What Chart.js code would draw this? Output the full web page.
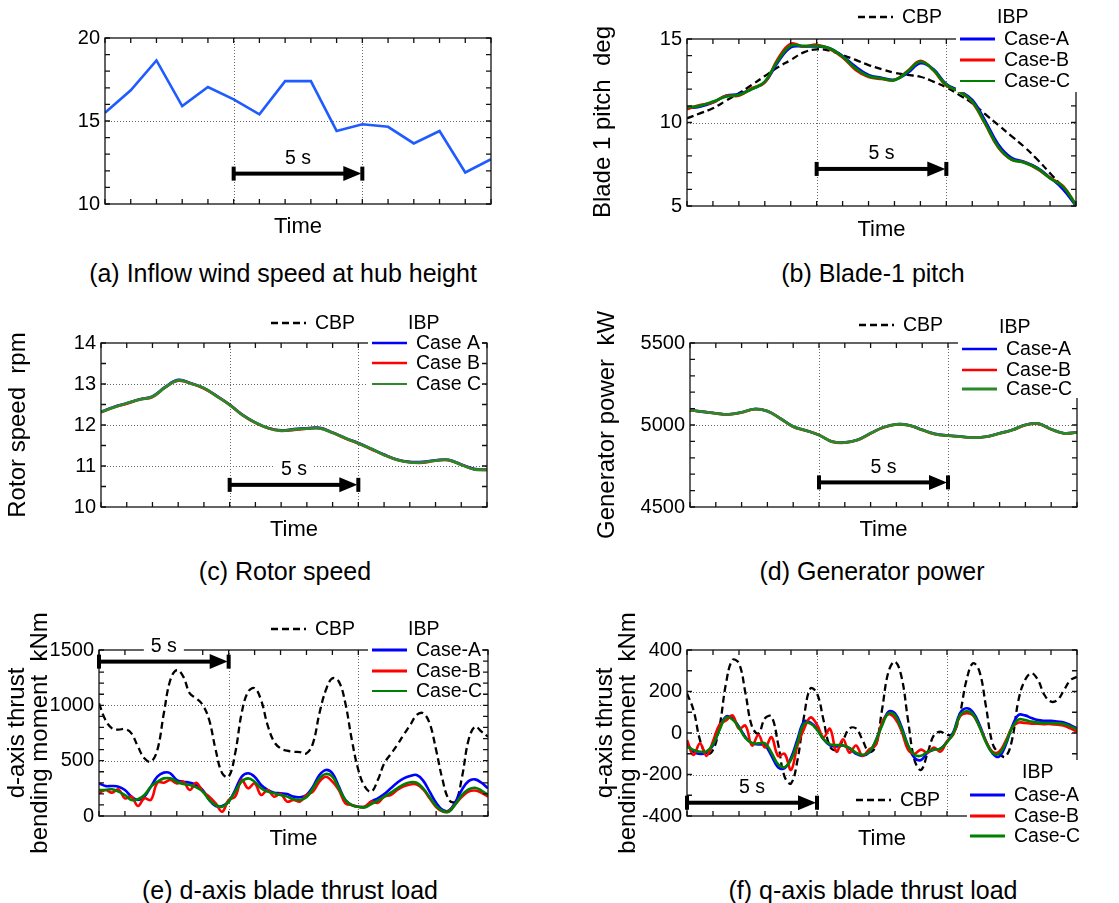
<!DOCTYPE html>
<html>
<head>
<meta charset="utf-8">
<script src="https://cdn.jsdelivr.net/npm/chart.js@4.4.1/dist/chart.umd.min.js"></script>
<style>
  body { margin: 0; background: #fff; width: 1119px; height: 903px; position: relative; overflow: hidden;
         font-family: "Liberation Sans", Arial, Helvetica, sans-serif; }
  canvas { position: absolute; }
  .cap { position: absolute; width: 600px; text-align: center; font-size: 25px; line-height: 28px; color: #000; }
</style>
</head>
<body>
<canvas id="chartA"></canvas>
<canvas id="chartB"></canvas>
<canvas id="chartC"></canvas>
<canvas id="chartD"></canvas>
<canvas id="chartE"></canvas>
<canvas id="chartF"></canvas>

<div class="cap" style="left:-17px;top:259px">(a) Inflow wind speed at hub height</div>
<div class="cap" style="left:573px;top:259px">(b) Blade-1 pitch</div>
<div class="cap" style="left:-15px;top:557px">(c) Rotor speed</div>
<div class="cap" style="left:572px;top:557px">(d) Generator power</div>
<div class="cap" style="left:-10px;top:876px">(e) d-axis blade thrust load</div>
<div class="cap" style="left:573px;top:876px">(f) q-axis blade thrust load</div>

<script>
// ---- data (time in s) ----
const T_WIND = [0, 1, 2, 3, 4, 5, 6, 7, 8, 9, 10, 11, 12, 13, 14, 15];
const WIND_SPEED = [15.5, 16.85, 18.65, 15.9, 17.05, 16.3, 15.4, 17.4, 17.4, 14.4, 14.8, 14.65, 13.65, 14.4, 11.9, 12.7];

const T_HALF = [0, 0.5, 1, 1.5, 2, 2.5, 3, 3.5, 4, 4.5, 5, 5.5, 6, 6.5, 7, 7.5, 8, 8.5, 9, 9.5,
                10, 10.5, 11, 11.5, 12, 12.5, 13, 13.5, 14, 14.5, 15];

const PITCH_CBP = [10.25, 10.55, 10.85, 11.3, 11.75, 12.25, 12.78, 13.3, 13.74, 14.2, 14.38, 14.3, 14.04, 13.75, 13.44, 13.2,
                   12.98, 12.85, 12.74, 12.45, 12.1, 11.65, 11.15, 10.5, 9.85, 9.2, 8.55, 7.8, 6.96, 6.1, 5.06];
const PITCH_A = [10.85, 10.95, 11.2, 11.6, 11.7, 12.0, 12.4, 13.6, 14.5, 14.55, 14.55, 14.45, 13.98, 13.35, 12.85, 12.68,
                 12.56, 12.95, 13.55, 13.2, 12.3, 11.9, 11.35, 10.1, 8.7, 7.9, 7.65, 7.3, 6.7, 6.0, 5.0];
const PITCH_B = [10.8, 11.05, 11.2, 11.6, 11.6, 12.05, 12.4, 13.8, 14.72, 14.55, 14.66, 14.4, 13.9, 13.15, 12.72, 12.6,
                 12.55, 13.08, 13.7, 13.12, 12.2, 11.88, 11.2, 9.9, 8.5, 7.78, 7.62, 7.22, 6.68, 6.2, 5.06];
const PITCH_C = [10.9, 11.0, 11.25, 11.55, 11.65, 12.0, 12.45, 13.7, 14.6, 14.58, 14.58, 14.44, 13.94, 13.24, 12.78, 12.64,
                 12.54, 13.04, 13.64, 13.14, 12.25, 11.85, 11.25, 9.95, 8.55, 7.8, 7.6, 7.26, 6.66, 6.16, 5.06];

const ROTOR_A = [12.32, 12.44, 12.53, 12.63, 12.7, 12.93, 13.1, 13.02, 12.9, 12.71, 12.5, 12.25, 12.06, 11.93, 11.87, 11.9,
                 11.92, 11.93, 11.82, 11.68, 11.56, 11.42, 11.28, 11.16, 11.1, 11.1, 11.14, 11.15, 11.04, 10.93, 10.91];
const ROTOR_B = [12.31, 12.43, 12.52, 12.62, 12.68, 12.92, 13.08, 13.01, 12.89, 12.7, 12.49, 12.24, 12.05, 11.92, 11.86, 11.88,
                 11.91, 11.92, 11.81, 11.67, 11.55, 11.41, 11.27, 11.15, 11.09, 11.08, 11.13, 11.14, 11.03, 10.92, 10.9];
const ROTOR_C = [12.32, 12.43, 12.53, 12.62, 12.69, 12.92, 13.09, 13.01, 12.9, 12.7, 12.49, 12.24, 12.06, 11.92, 11.86, 11.89,
                 11.91, 11.92, 11.81, 11.68, 11.55, 11.42, 11.27, 11.15, 11.09, 11.09, 11.13, 11.15, 11.03, 10.92, 10.91];

const POWER_A = [5092, 5080, 5072, 5066, 5078, 5098, 5084, 5041, 4991, 4967, 4938, 4900, 4894, 4910, 4950, 4987,
                 5005, 4999, 4971, 4946, 4936, 4930, 4924, 4930, 4950, 4971, 5001, 5009, 4975, 4950, 4956];
const POWER_B = [5090, 5082, 5070, 5064, 5076, 5096, 5086, 5039, 4989, 4965, 4940, 4898, 4892, 4908, 4948, 4985,
                 5003, 4997, 4969, 4944, 4934, 4928, 4922, 4928, 4948, 4969, 4999, 5007, 4973, 4948, 4954];
const POWER_C = [5091, 5081, 5071, 5065, 5077, 5097, 5085, 5040, 4990, 4966, 4939, 4899, 4893, 4909, 4949, 4986,
                 5004, 4998, 4970, 4945, 4935, 4929, 4923, 4929, 4949, 4970, 5000, 5008, 4974, 4949, 4955];

const T_QUARTER = [0, 0.25, 0.5, 0.75, 1, 1.25, 1.5, 1.75, 2, 2.25, 2.5, 2.75, 3, 3.25, 3.5, 3.75,
                   4, 4.25, 4.5, 4.75, 5, 5.25, 5.5, 5.75, 6, 6.25, 6.5, 6.75, 7, 7.25, 7.5, 7.75,
                   8, 8.25, 8.5, 8.75, 9, 9.25, 9.5, 9.75, 10, 10.25, 10.5, 10.75, 11, 11.25, 11.5, 11.75,
                   12, 12.25, 12.5, 12.75, 13, 13.25, 13.5, 13.75, 14, 14.25, 14.5, 14.75, 15];

const D_CBP = [1018, 867, 792, 780, 786, 747, 627, 521, 491, 596, 928, 1229, 1319, 1259, 1108, 1063,
               1003, 867, 596, 386, 355, 566, 928, 1123, 1154, 1048, 822, 672, 611, 590, 581, 578,
               566, 657, 928, 1139, 1244, 1214, 1018, 687, 416, 265, 220, 325, 476, 560, 642, 735,
               822, 913, 928, 837, 596, 325, 145, 130, 355, 687, 807, 762, 717];
const D_A = [295, 271, 271, 265, 235, 175, 145, 175, 265, 355, 392, 386, 325, 310, 301, 280,
             235, 145, 90, 90, 130, 235, 355, 386, 355, 280, 235, 211, 205, 199, 175, 169,
             190, 265, 370, 416, 386, 265, 145, 99, 84, 84, 130, 160, 199, 250, 301, 340,
             362, 370, 320, 220, 120, 55, 50, 130, 240, 315, 331, 300, 250];
const D_B = [205, 235, 211, 241, 160, 175, 90, 160, 145, 301, 301, 325, 295, 310, 235, 301,
             220, 175, 114, 39, 145, 175, 325, 250, 295, 190, 235, 175, 199, 130, 145, 130,
             190, 220, 310, 355, 310, 235, 114, 99, 84, 84, 130, 120, 175, 190, 235, 268,
             285, 285, 240, 160, 80, 40, 45, 110, 175, 220, 230, 210, 175];
const D_C = [235, 235, 241, 220, 190, 145, 151, 190, 265, 310, 340, 340, 310, 289, 280, 259,
             220, 145, 99, 84, 130, 220, 310, 340, 310, 250, 220, 205, 190, 175, 151, 145,
             169, 250, 340, 380, 355, 250, 145, 99, 84, 78, 108, 139, 175, 211, 250, 285,
             305, 300, 250, 170, 90, 45, 40, 110, 190, 240, 255, 230, 190];

const Q_CBP = [191, 111, -34, -101, -82, 31, 239, 352, 336, 191, 31, -2, 71, 79, -50, -210,
               -243, -130, 79, 215, 191, 63, -66, -82, -34, 22, 22, -34, -90, -66, 111, 296,
               344, 271, 63, -130, -178, -98, -10, 6, -10, -2, 95, 255, 336, 296, 127, -50,
               -98, -114, -34, 159, 255, 288, 255, 183, 151, 159, 207, 255, 271];
const Q_A = [-50, -90, -101, -95, -60, 20, 80, 70, 30, -20, -50, -55, -60, -110, -165, -170,
             -120, -30, 55, 50, 20, -30, -60, -65, -60, -75, -100, -110, -95, -40, 40, 103,
             95, 30, -60, -120, -130, -95, -80, -75, -42, 6, 95, 119, 100, 40, -40, -98,
             -114, -60, 30, 87, 85, 72, 62, 59, 59, 55, 50, 38, 22];
const Q_B = [-34, -106, -50, -110, -40, 40, 60, 85, 20, 35, -60, -10, -70, -20, -110, -100,
             -178, -60, 20, 75, 40, -20, 20, -90, -30, -95, -60, -110, -80, -60, 50, 90,
             70, 10, -80, -100, -80, -95, -70, -90, -40, -5, 80, 95, 85, 30, -40, -90,
             -90, -40, 25, 50, 48, 45, 45, 43, 43, 40, 35, 22, 6];
const Q_C = [-66, -82, -90, -88, -55, 15, 75, 65, 25, -25, -48, -50, -50, -95, -150, -165,
             -130, -45, 45, 45, 15, -30, -55, -58, -60, -72, -95, -105, -92, -40, 35, 95,
             85, 20, -60, -105, -110, -90, -80, -75, -45, 0, 85, 105, 90, 30, -45, -95,
             -100, -50, 25, 65, 62, 55, 50, 48, 48, 47, 43, 32, 18];

// ---- styling ----
const FONT = '"Liberation Sans", Arial, Helvetica, sans-serif';
const BLUE = '#0000ff', RED = '#ff0000', GREEN = '#008000', GREEN2 = '#2a8a2a';
const TIME_SIZE = 22;
Chart.defaults.font.family = FONT;
Chart.defaults.color = '#000';

function ibpSets(a, b, c, green, widths) {
  // green drawn on top (first dataset is painted last)
  return [
    { data: c, borderColor: green, borderWidth: widths[2] },
    { data: b, borderColor: RED, borderWidth: widths[1] },
    { data: a, borderColor: BLUE, borderWidth: widths[0] }
  ];
}
const cbpSet = d => ({ data: d, borderColor: '#000', borderWidth: 2.3, borderDash: [7, 4] });

function legendItems(pos, names) {
  // pos: canvas coords of the legend block
  const items = [
    { dash: true, x1: pos.cbpX, x2: pos.cbpX + 35, y: pos.cbpY, text: 'CBP', tx: pos.cbpX + 44 },
    { text: 'IBP', tx: pos.ibpX, y: pos.ibpY }
  ];
  const cols = [BLUE, RED, pos.green];
  names.forEach((n, i) => items.push({
    color: cols[i], w: pos.lw[i], x1: pos.caseX, x2: pos.caseX + 35, y: pos.caseY[i], text: n, tx: pos.caseX + 44
  }));
  return items;
}

function decoPlugin(p) {
  return {
    id: 'deco',
    beforeDatasetsDraw(chart) {
      const { ctx, chartArea: a, scales } = chart;
      const xs = scales.x, ys = scales.y;
      ctx.save();
      ctx.strokeStyle = '#6a6a6a';
      ctx.lineWidth = 1;
      ctx.setLineDash([1, 2]);
      ctx.beginPath();
      p.gridX.forEach(v => {
        const px = Math.round(xs.getPixelForValue(v)) + 0.5;
        ctx.moveTo(px, a.top); ctx.lineTo(px, a.bottom);
      });
      p.gridY.forEach(v => {
        const py = Math.round(ys.getPixelForValue(v)) + 0.5;
        ctx.moveTo(a.left, py); ctx.lineTo(a.right, py);
      });
      ctx.stroke();
      ctx.restore();
    },
    afterDatasetsDraw(chart) {
      const { ctx, chartArea: a, scales } = chart;
      const xs = scales.x, ys = scales.y;
      ctx.save();
      // frame with inward ticks
      ctx.strokeStyle = '#111';
      ctx.lineWidth = 1.3;
      ctx.strokeRect(a.left, a.top, a.right - a.left, a.bottom - a.top);
      ctx.beginPath();
      ys.ticks.forEach(t => {
        const py = ys.getPixelForValue(t.value);
        ctx.moveTo(a.left, py); ctx.lineTo(a.left + 5, py);
        ctx.moveTo(a.right, py); ctx.lineTo(a.right - 5, py);
      });
      xs.ticks.forEach(t => {
        const px = xs.getPixelForValue(t.value);
        ctx.moveTo(px, a.bottom); ctx.lineTo(px, a.bottom - 5);
        ctx.moveTo(px, a.top); ctx.lineTo(px, a.top + 5);
      });
      ctx.stroke();

      // 5 s arrow
      const ar = p.arrow;
      const x1 = xs.getPixelForValue(ar.from), x2 = xs.getPixelForValue(ar.to), ay = ys.getPixelForValue(ar.y);
      ctx.fillStyle = '#000';
      ctx.fillRect(x1 - 2, ay - 7, 4, 14);
      ctx.fillRect(x2 - 2, ay - 7, 4, 14);
      ctx.fillRect(x1, ay - 2, x2 - x1 - 16, 4);
      ctx.beginPath();
      ctx.moveTo(x2 - 1, ay); ctx.lineTo(x2 - 19, ay - 7.5); ctx.lineTo(x2 - 19, ay + 7.5);
      ctx.closePath(); ctx.fill();
      ctx.font = '19.5px ' + FONT;
      ctx.textAlign = 'center'; ctx.textBaseline = 'middle';
      const tw = ctx.measureText('5 s').width, tx = (x1 + x2) / 2, ty = ay - 15;
      ctx.fillStyle = '#fff';
      ctx.fillRect(tx - tw / 2 - 7, ty - 10, tw + 14, 20);
      ctx.fillStyle = '#000';
      ctx.fillText('5 s', tx, ty);

      // legend
      ctx.fillStyle = '#fff';
      p.legendBoxes.forEach(b => ctx.fillRect(b[0], b[1], b[2], b[3]));
      ctx.textAlign = 'left';
      p.legend.forEach(it => {
        if (it.x1 !== undefined) {
          ctx.beginPath();
          ctx.setLineDash(it.dash ? [7, 4] : []);
          ctx.strokeStyle = it.dash ? '#000' : it.color;
          ctx.lineWidth = it.dash ? 2.3 : it.w;
          ctx.moveTo(it.x1, it.y); ctx.lineTo(it.x2, it.y);
          ctx.stroke();
          ctx.setLineDash([]);
        }
        ctx.fillStyle = '#000';
        ctx.fillText(it.text, it.tx, it.y + 1);
      });

      // y-axis title
      ctx.font = '24px ' + FONT;
      ctx.textAlign = 'center';
      p.yTitle.lines.forEach((s, i) => {
        ctx.save();
        ctx.translate(p.yTitle.xs[i], p.yTitle.y);
        ctx.rotate(-Math.PI / 2);
        ctx.fillText(s, 0, 0);
        ctx.restore();
      });
      ctx.restore();
    }
  };
}

function makePanel(id, g, p) {
  const cv = document.getElementById(id);
  cv.width = g.w; cv.height = g.h;
  cv.style.left = g.x + 'px'; cv.style.top = g.y + 'px';
  const yW = g.L - g.x, xH = g.y + g.h - g.B;
  const timePad = g.h - (g.timeY - g.y) - TIME_SIZE * 1.2 / 2;
  return new Chart(cv, {
    type: 'line',
    data: {
      labels: p.t,
      datasets: p.sets.map(s => Object.assign({ pointRadius: 0, fill: false, tension: p.tension }, s))
    },
    options: {
      responsive: false,
      animation: false,
      events: [],
      layout: { padding: { left: 0, top: g.T - g.y, right: g.x + g.w - g.R, bottom: 0 } },
      plugins: { legend: { display: false }, tooltip: { enabled: false } },
      scales: {
        x: {
          type: 'linear', min: 0, max: 15,
          ticks: { display: false, stepSize: 1, autoSkip: false },
          grid: { display: false, drawTicks: false },
          border: { display: false },
          title: { display: true, text: 'Time', color: '#000', font: { size: TIME_SIZE, family: FONT },
                   padding: { top: 0, bottom: timePad } },
          afterFit: s => { s.height = xH; }
        },
        y: {
          min: p.yMin, max: p.yMax,
          ticks: {
            stepSize: p.yStep, autoSkip: false, padding: 5, color: '#000',
            font: { size: 20, family: FONT },
            callback: v => (Math.abs(v % p.yLabelStep) < 1e-9 ? String(v) : '')
          },
          grid: { display: false, drawTicks: false },
          border: { display: false },
          afterFit: s => { s.width = yW; }
        }
      }
    },
    plugins: [decoPlugin(p)]
  });
}

// (a) inflow wind speed
makePanel('chartA', { x: 0, y: 0, w: 559, h: 250, L: 105, T: 38, R: 491, B: 204, timeY: 227 }, {
  t: T_WIND, tension: 0,
  sets: [{ data: WIND_SPEED, borderColor: '#1f5cff', borderWidth: 2.6 }],
  yMin: 10, yMax: 20, yStep: 1, yLabelStep: 5,
  gridX: [5, 10], gridY: [15],
  arrow: { from: 5, to: 10, y: 11.83 },
  legend: [], legendBoxes: [],
  yTitle: { lines: ['Inflow wind speed', 'at hub height  m/s'], xs: [23, 48], y: 123 }
});

// (b) blade-1 pitch
makePanel('chartB', { x: 560, y: 0, w: 559, h: 250, L: 687, T: 39, R: 1076, B: 206, timeY: 230 }, {
  t: T_HALF, tension: 0.4,
  sets: [...ibpSets(PITCH_A, PITCH_B, PITCH_C, GREEN, [2.6, 2.6, 2.8]), cbpSet(PITCH_CBP)],
  yMin: 5, yMax: 15, yStep: 1, yLabelStep: 5,
  gridX: [5, 10], gridY: [10],
  arrow: { from: 5, to: 10, y: 7.22 },
  legendBoxes: [[396, 28, 163, 64]],
  legend: legendItems({ cbpX: 298, cbpY: 17, ibpX: 437, ibpY: 17, caseX: 400, caseY: [39, 60, 81],
                        lw: [3, 3, 2], green: GREEN }, ['Case-A', 'Case-B', 'Case-C']),
  yTitle: { lines: ['Blade 1 pitch  deg'], xs: [43], y: 122 }
});

// (c) rotor speed
makePanel('chartC', { x: 0, y: 300, w: 559, h: 250, L: 101, T: 343, R: 487, B: 507, timeY: 530 }, {
  t: T_HALF, tension: 0.4,
  sets: ibpSets(ROTOR_A, ROTOR_B, ROTOR_C, GREEN2, [2.6, 2.6, 2.8]),
  yMin: 10, yMax: 14, yStep: 0.5, yLabelStep: 1,
  gridX: [5, 10], gridY: [11, 12, 13],
  arrow: { from: 5, to: 10, y: 10.54 },
  legendBoxes: [[368, 33, 114, 61]],
  legend: legendItems({ cbpX: 271, cbpY: 23, ibpX: 408, ibpY: 23, caseX: 372, caseY: [43, 63, 84],
                        lw: [2.5, 2.5, 2], green: GREEN2 }, ['Case A', 'Case B', 'Case C']),
  yTitle: { lines: ['Rotor speed  rpm'], xs: [18], y: 125 }
});

// (d) generator power
makePanel('chartD', { x: 560, y: 300, w: 559, h: 250, L: 690, T: 343, R: 1077, B: 507, timeY: 530 }, {
  t: T_HALF, tension: 0.4,
  sets: ibpSets(POWER_A, POWER_B, POWER_C, GREEN2, [2.6, 2.6, 2.8]),
  yMin: 4500, yMax: 5500, yStep: 100, yLabelStep: 500,
  gridX: [5, 10], gridY: [5000],
  arrow: { from: 5, to: 10, y: 4650 },
  legendBoxes: [[398, 38, 161, 60]],
  legend: legendItems({ cbpX: 299, cbpY: 25, ibpX: 439, ibpY: 27, caseX: 402, caseY: [49, 70, 89],
                        lw: [2.5, 2.5, 3], green: GREEN2 }, ['Case-A', 'Case-B', 'Case-C']),
  yTitle: { lines: ['Generator power  kW'], xs: [47], y: 125 }
});

// (e) d-axis blade thrust load
makePanel('chartE', { x: 0, y: 600, w: 559, h: 255, L: 99, T: 650, R: 488, B: 816, timeY: 839 }, {
  t: T_QUARTER, tension: 0.4,
  sets: [...ibpSets(D_A, D_B, D_C, GREEN, [2.6, 2.6, 2.6]), cbpSet(D_CBP)],
  yMin: 0, yMax: 1500, yStep: 100, yLabelStep: 500,
  gridX: [5, 10], gridY: [500, 1000],
  arrow: { from: 0, to: 5, y: 1395 },
  legendBoxes: [[368, 40, 114, 61]],
  legend: legendItems({ cbpX: 271, cbpY: 29, ibpX: 408, ibpY: 29, caseX: 372, caseY: [50, 71, 91],
                        lw: [3, 3, 2], green: GREEN }, ['Case-A', 'Case-B', 'Case-C']),
  yTitle: { lines: ['d-axis thrust', 'bending moment  kNm'], xs: [17, 40], y: 133 }
});

// (f) q-axis blade thrust load
makePanel('chartF', { x: 560, y: 600, w: 559, h: 255, L: 687, T: 650, R: 1077, B: 816, timeY: 839 }, {
  t: T_QUARTER, tension: 0.4,
  sets: [...ibpSets(Q_A, Q_B, Q_C, GREEN, [2.6, 2.6, 2.6]), cbpSet(Q_CBP)],
  yMin: -400, yMax: 400, yStep: 100, yLabelStep: 200,
  gridX: [5, 10], gridY: [-200, 0, 200],
  arrow: { from: 0, to: 5, y: -336 },
  legendBoxes: [[292, 189, 92, 22], [407, 160, 152, 90]],
  legend: legendItems({ cbpX: 296, cbpY: 200, ibpX: 462, ibpY: 172, caseX: 410, caseY: [195, 216, 236],
                        lw: [3, 3, 3], green: GREEN }, ['Case-A', 'Case-B', 'Case-C']),
  yTitle: { lines: ['q-axis thrust', 'bending moment  kNm'], xs: [45, 68], y: 133 }
});
</script>
</body>
</html>
